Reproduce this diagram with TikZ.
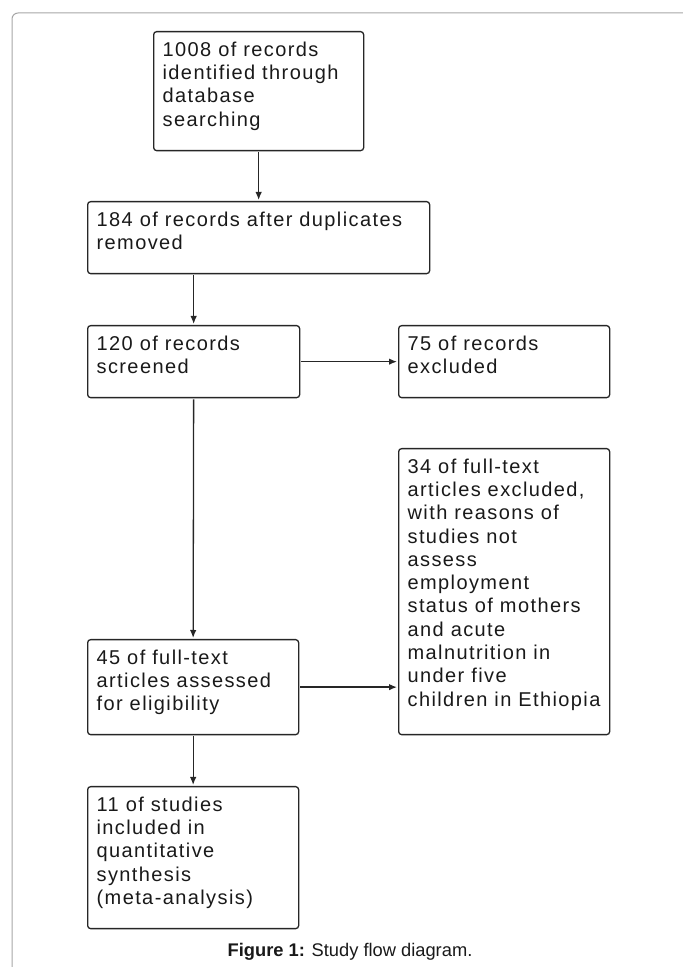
\documentclass[tikz,border=0pt]{standalone}
\usepackage{fontspec}
\usetikzlibrary{arrows.meta}
\newfontfamily\boxfont[LetterSpace=7]{Liberation Sans}
\newfontfamily\capfont{Liberation Sans}
\newcommand{\boxtext}[3]{\parbox[c][#2][t]{#1}{\raggedright\vspace*{10pt}#3}}
\begin{document}
\begin{tikzpicture}[x=1pt,y=1pt,>={Latex[length=8pt,width=6.5pt]},
		box/.style={draw=black!85,line width=1.3pt,rounded corners=3pt,inner xsep=9pt,inner ysep=0pt,anchor=north west,text=black!90,font=\boxfont\fontsize{20}{23.3}\selectfont},
		link/.style={->,draw=black!85,line width=1.3pt,shorten <=1pt,shorten >=1pt}]
				\useasboundingbox (0,0) rectangle (683,967);
				\draw[gray!70,line width=1pt,rounded corners=6pt] (683,954)--(12,954)--(12,0);

				\node[box] (records) at (153,936) {\boxtext{192pt}{119pt}{1008 of records\\identified through\\database\\searching}};
				\node[box] (dedup) at (87,766) {\boxtext{324pt}{72pt}{184 of records after duplicates\\removed}};
				\node[box] (screened) at (87,642) {\boxtext{194pt}{72pt}{120 of records\\screened}};
				\node[box] (excluded) at (398,642) {\boxtext{193pt}{72pt}{75 of records\\excluded}};
				\node[box] (fullexcl) at (398,519) {\boxtext{193pt}{286pt}{34 of full-text\\articles excluded,\\with reasons of\\studies not\\assess\\employment\\status of mothers\\and acute\\malnutrition in\\under five\\children in Ethiopia}};
				\node[box] (fulltext) at (87,328) {\boxtext{193pt}{95pt}{45 of full-text\\articles assessed\\for eligibility}};
				\node[box] (included) at (87,181) {\boxtext{193pt}{142pt}{11 of studies\\included in\\quantitative\\synthesis\\(meta-analysis)}};

				\draw[link] (records.south)--(dedup.north -| records.south);
				\draw[link] (dedup.south -| screened.north)--(screened.north);
				\draw[link] (screened.east)--(excluded.west);
				\draw[link] (screened.south)--(fulltext.north);
				\draw[link] (fulltext.east)--(fulltext.east -| fullexcl.west);
				\draw[link] (fulltext.south)--(included.north);

				\node[anchor=base,text=black!90,font=\capfont\fontsize{18.3}{22}\selectfont] (caption) at (350,10) {\textbf{Figure 1:} Study flow diagram.};
			\end{tikzpicture}
\end{document}
